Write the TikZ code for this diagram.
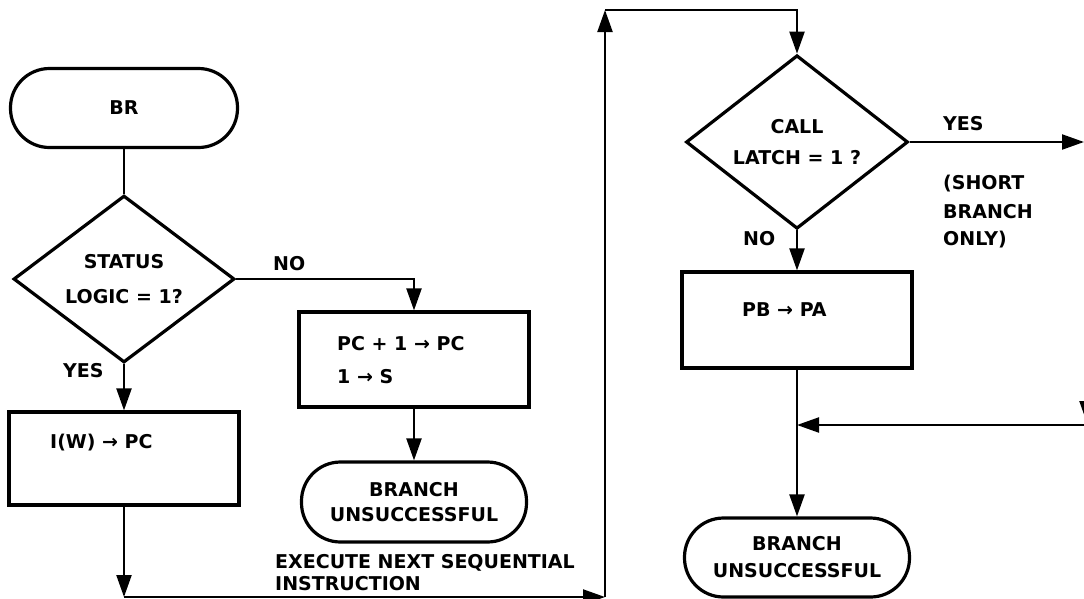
\documentclass[tikz,border=0pt]{standalone}
\usepackage{fontspec}
\setmainfont{DejaVu Sans}
\usetikzlibrary{shapes.geometric,arrows.meta}
\begin{document}
\begin{tikzpicture}[x=1pt,y=-1pt,
  every node/.style={inner sep=0pt},
  lbl/.style={font=\bfseries\fontsize{19}{22}\selectfont, anchor=base west},
  term/.style={draw, line width=3.2pt, rounded corners=39pt, minimum width=227pt,
    minimum height=79pt, align=center, font=\bfseries\fontsize{19}{25}\selectfont},
  decision/.style={diamond, draw, line width=3.2pt, minimum width=221pt,
    minimum height=144pt, align=center},
  procbox/.style={draw, line width=3.2pt, minimum width=230pt, minimum height=95pt},
  conn/.style={line width=2.2pt},
  arr/.style={conn, -{Triangle[length=22pt,width=15pt]}}]
\useasboundingbox (0,0) rectangle (1084,598);
\clip (0,0) rectangle (1084,598);

% left column
\node[term] (br) at (124,108) {BR};
\node[decision, font=\bfseries\fontsize{19}{35}\selectfont] (status) at (124,279) {STATUS\\LOGIC = 1?};
\node[procbox, minimum height=93pt] (iw) at (124,458.5) {};
\node[lbl] (iwt) at (50,448.7) {I(W) → PC};
\node[lbl] (yes1) at (63,377) {YES};

% middle column
\node[lbl] (no1) at (273,270) {NO};
\node[procbox] (pc) at (414,359.5) {};
\node[lbl] (pct1) at (337,350.7) {PC + 1 → PC};
\node[lbl] (pct2) at (337,383.7) {1 → S};
\node[term, minimum width=225pt, minimum height=80pt] (bu1) at (414,502) {BRANCH\\UNSUCCESSFUL};
\node[lbl] (ex1) at (275,568) {EXECUTE NEXT SEQUENTIAL};
\node[lbl] (ex2) at (275,590) {INSTRUCTION};

% right column
\node[decision, minimum width=222pt, minimum height=143pt, font=\bfseries\fontsize{19}{31}\selectfont] (call) at (797,142) {CALL\\LATCH = 1 ?};
\node[lbl] (yes2) at (943,130) {YES};
\node[lbl] (sb1) at (943,189) {(SHORT};
\node[lbl] (sb2) at (943,218) {BRANCH};
\node[lbl] (sb3) at (943,245) {ONLY)};
\node[lbl] (no2) at (743,245) {NO};
\node[procbox, minimum height=96pt] (pb) at (797,320) {};
\node[lbl] (pbt) at (742,316.7) {PB → PA};
\node[term, minimum width=225pt, minimum height=79pt, font=\bfseries\fontsize{19}{27}\selectfont] (bu2) at (797,557.5) {BRANCH\\UNSUCCESSFUL};

% free ends
\coordinate (c1) at (124,597);
\coordinate (c2) at (605,597);
\coordinate (c3) at (605,10);
\coordinate (c4) at (1084,142);
\coordinate (j) at (797,425);
\coordinate (c5) at (1084,425);
\coordinate (c6) at (1087,380);
\coordinate (c7) at (1087,423);

% connectors
\draw[conn] (br) -- (status);
\draw[arr] (status.south) -- (iw.north);
\draw[arr] (iw.south) -- (c1);
\draw[arr] (c1) -- (c2);
\draw[arr] (c2) -- (c3);
\draw[arr] (c3) -| (call.north);
\draw[arr] (status.east) -| (pc.north);
\draw[arr] (pc.south) -- (bu1.north);
\draw[arr] (call.east) -- (c4);
\draw[arr] (call.south) -- (pb.north);
\draw[arr] (pb.south) -- (bu2.north);
\draw[arr] (c5) -- (j);
\draw[arr] (c6) -- (c7);
\end{tikzpicture}
\end{document}
